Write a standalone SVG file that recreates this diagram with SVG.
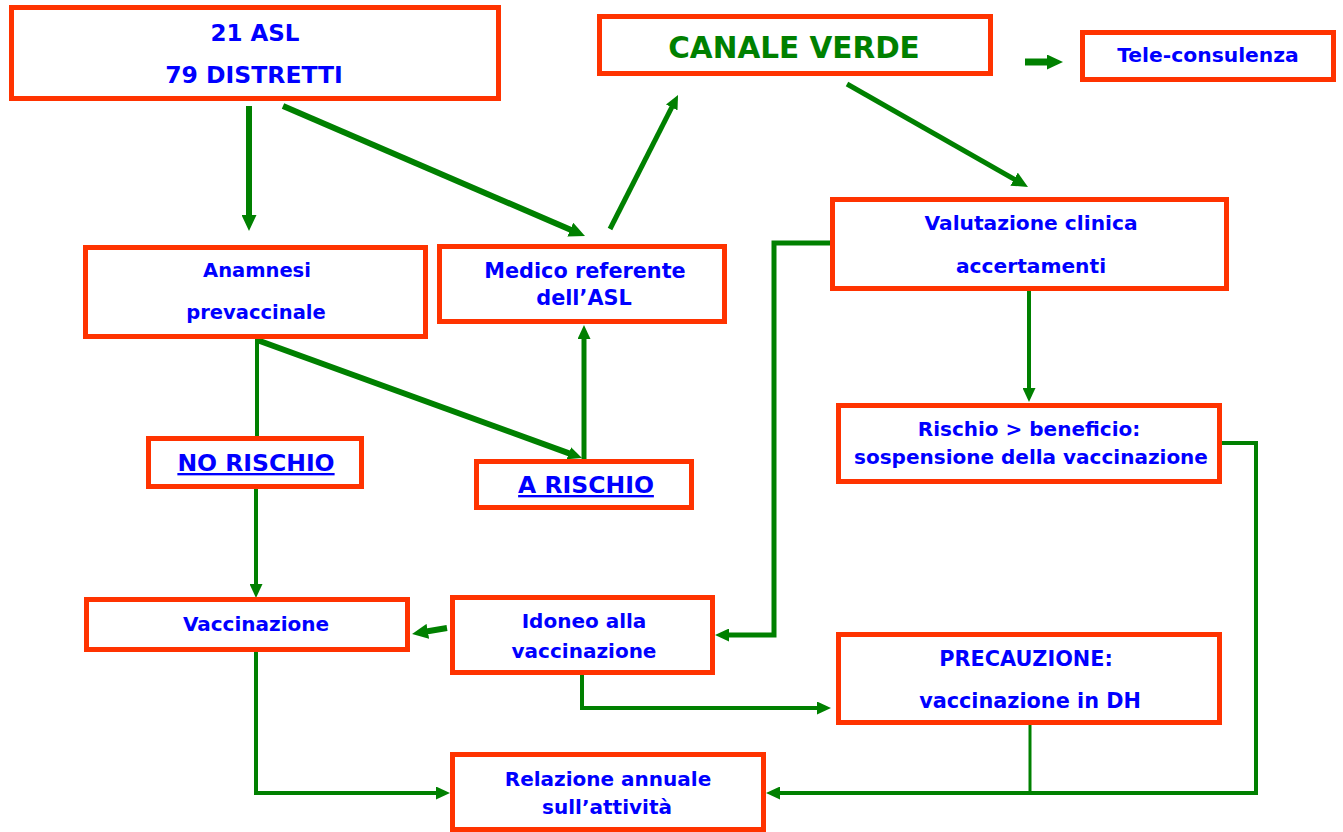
<svg xmlns="http://www.w3.org/2000/svg" width="1343" height="832" viewBox="0 0 1343 832">
<style>
.box{fill:#fff;stroke:#FF3300;stroke-width:5}
.t{font-family:"DejaVu Sans","Liberation Sans",sans-serif;font-weight:bold;fill:#0000FF;text-anchor:middle}
.cv{fill:#008000}
.c{fill:none;stroke:#008000;stroke-linejoin:miter;stroke-linecap:butt}
</style>
<defs>
<marker id="ah" markerUnits="userSpaceOnUse" markerWidth="14" markerHeight="13" viewBox="0 0 14 13" refX="4" refY="6.5" orient="auto">
<path d="M0,0 L14,6.5 L0,13 z" fill="#008000"/>
</marker>
<marker id="ahb" markerUnits="userSpaceOnUse" markerWidth="16" markerHeight="15" viewBox="0 0 16 15" refX="6" refY="7.5" orient="auto">
<path d="M0,0 L16,7.5 L0,15 z" fill="#008000"/>
</marker>
</defs>
<rect width="1343" height="832" fill="#fff"/>
<g id="connectors">
<line class="c" x1="249" y1="106" x2="249" y2="221" stroke-width="6" marker-end="url(#ahb)"/>
<line class="c" x1="283" y1="106" x2="575.8" y2="232" stroke-width="6" marker-end="url(#ahb)"/>
<line class="c" x1="610" y1="229" x2="673.5" y2="103.9" stroke-width="5" marker-end="url(#ah)"/>
<line class="c" x1="847" y1="84" x2="1019.3" y2="182.1" stroke-width="5" marker-end="url(#ahb)"/>
<line class="c" x1="1025" y1="62" x2="1053" y2="62" stroke-width="7" marker-end="url(#ahb)"/>
<line class="c" x1="257" y1="339" x2="257" y2="437" stroke-width="4"/>
<line class="c" x1="257" y1="340" x2="572.6" y2="454.6" stroke-width="6" marker-end="url(#ah)"/>
<line class="c" x1="584" y1="460" x2="584" y2="335" stroke-width="5" marker-end="url(#ah)"/>
<line class="c" x1="256" y1="489" x2="256" y2="588" stroke-width="4" marker-end="url(#ah)"/>
<polyline class="c" points="831,243 774,243 774,635 725,635" stroke-width="5" marker-end="url(#ah)"/>
<line class="c" x1="447" y1="628" x2="421.9" y2="632.3" stroke-width="6" marker-end="url(#ahb)"/>
<polyline class="c" points="582,675 582,708 821,708" stroke-width="4" marker-end="url(#ah)"/>
<line class="c" x1="1029" y1="291" x2="1029" y2="392" stroke-width="4" marker-end="url(#ah)"/>
<polyline class="c" points="1222,443 1256,443 1256,793 776,793" stroke-width="4" marker-end="url(#ah)"/>
<line class="c" x1="1030" y1="725" x2="1030" y2="793" stroke-width="3"/>
<polyline class="c" points="256,652 256,793 440,793" stroke-width="4" marker-end="url(#ah)"/>
</g>
<g id="asl">
<rect class="box" x="11.5" y="7.5" width="487" height="91"/>
<text class="t" x="255" y="41" font-size="23">21 ASL</text>
<text class="t" x="254" y="83" font-size="23.5">79 DISTRETTI</text>
</g>
<g id="canale-verde">
<rect class="box" x="599.5" y="16.5" width="391" height="57"/>
<text class="t cv" x="794" y="58" font-size="29.5">CANALE VERDE</text>
</g>
<g id="tele-consulenza">
<rect class="box" x="1082.5" y="32.5" width="251" height="47"/>
<text class="t" x="1208" y="62" font-size="20.3">Tele-consulenza</text>
</g>
<g id="anamnesi">
<rect class="box" x="85.5" y="247.5" width="340" height="89"/>
<text class="t" x="257" y="277" font-size="19.5">Anamnesi</text>
<text class="t" x="256" y="319" font-size="19.5">prevaccinale</text>
</g>
<g id="medico">
<rect class="box" x="439.5" y="246.5" width="285" height="75"/>
<text class="t" x="585" y="278" font-size="20.8">Medico referente</text>
<text class="t" x="584" y="305" font-size="20.8">dell’ASL</text>
</g>
<g id="valutazione">
<rect class="box" x="832.5" y="199.5" width="394" height="89"/>
<text class="t" x="1031" y="230" font-size="20.2">Valutazione clinica</text>
<text class="t" x="1031" y="273" font-size="20.2">accertamenti</text>
</g>
<g id="no-rischio">
<rect class="box" x="148.5" y="438.5" width="213" height="48"/>
<text class="t" x="256" y="471" font-size="23.5" text-decoration="underline">NO RISCHIO</text>
</g>
<g id="a-rischio">
<rect class="box" x="476.5" y="461.5" width="215" height="46"/>
<text class="t" x="586" y="493" font-size="23.5" text-decoration="underline">A RISCHIO</text>
</g>
<g id="rischio-beneficio">
<rect class="box" x="838.5" y="405.5" width="381" height="76"/>
<text class="t" x="1029" y="436" font-size="20">Rischio &gt; beneficio:</text>
<text class="t" x="1031" y="464" font-size="20">sospensione della vaccinazione</text>
</g>
<g id="vaccinazione">
<rect class="box" x="86.5" y="599.5" width="321" height="50"/>
<text class="t" x="256" y="631" font-size="20">Vaccinazione</text>
</g>
<g id="idoneo">
<rect class="box" x="452.5" y="597.5" width="260" height="75"/>
<text class="t" x="584" y="628" font-size="20">Idoneo alla</text>
<text class="t" x="584" y="658" font-size="20">vaccinazione</text>
</g>
<g id="precauzione">
<rect class="box" x="838.5" y="634.5" width="381" height="88"/>
<text class="t" x="1026" y="666" font-size="20.8">PRECAUZIONE:</text>
<text class="t" x="1030" y="708" font-size="20.8">vaccinazione in DH</text>
</g>
<g id="relazione">
<rect class="box" x="452.5" y="754.5" width="311" height="75"/>
<text class="t" x="608" y="786" font-size="20">Relazione annuale</text>
<text class="t" x="607" y="814" font-size="20">sull’attività</text>
</g>
</svg>
